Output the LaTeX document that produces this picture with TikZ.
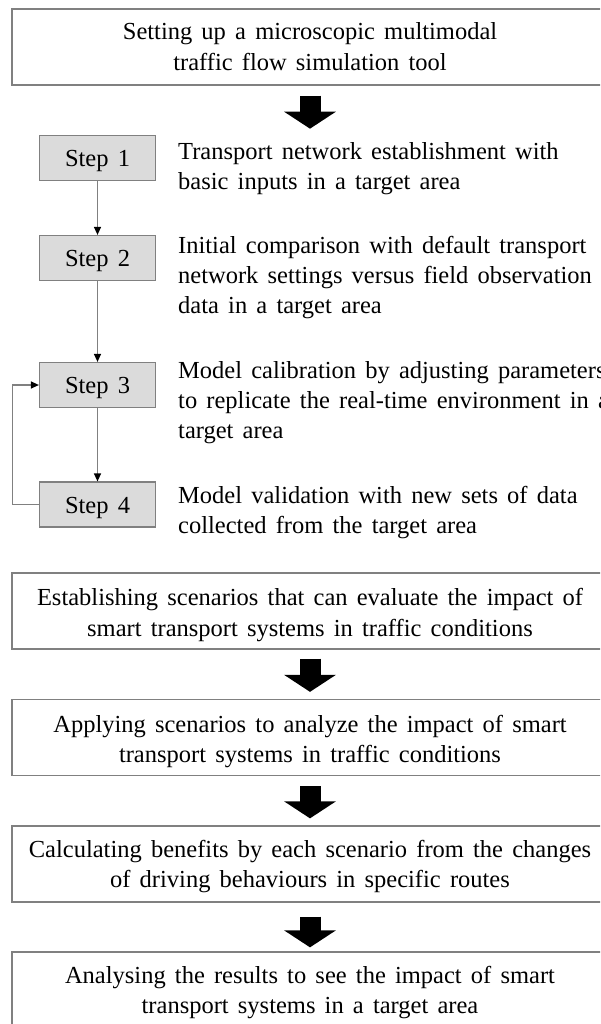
\documentclass[tikz,border=0pt]{standalone}
\usepackage{fontspec}
\setmainfont{Liberation Serif}[WordSpace=1.5]
\usetikzlibrary{arrows.meta,calc}
\definecolor{edge}{gray}{0.5}
\definecolor{stepfill}{gray}{0.86}
\begin{document}
\begin{tikzpicture}[x=1pt,y=-1pt,
  mainbox/.style={draw=edge, line width=1.3pt, minimum width=596pt, minimum height=76pt, inner sep=0pt},
  stepbox/.style={draw=edge, fill=stepfill, line width=1.2pt, minimum width=116pt, minimum height=45pt, inner sep=0pt, text height=17.4pt, text depth=0pt, font=\fontsize{24.5}{30}\selectfont},
  maintext/.style={align=center, anchor=base, inner sep=0pt, font=\fontsize{24.5}{30.5}\selectfont},
  sidetext/.style={align=left, anchor=base west, inner sep=0pt, font=\fontsize{24.5}{30}\selectfont},
  flowline/.style={draw=edge, line width=1.2pt, -{Triangle[length=8pt,width=7pt,color=black]}},
  bigarrow/.style={black, line width=21pt, -{Triangle[length=17pt,width=51pt]}}
]
\path[fill=white,use as bounding box] (0,0) rectangle (600,1024);
\clip (0,0) rectangle (600,1024);

% main boxes (text anchors are at the baseline of the last line)
\node[mainbox] (b0) at (310,47) {};
\node[maintext] (b0t) at (310,70.5) {Setting up a microscopic multimodal\\traffic flow simulation tool};

\node[mainbox] (b5) at (310,611) {};
\node[maintext] (b5t) at (310,636) {Establishing scenarios that can evaluate the impact of\\smart transport systems in traffic conditions};

\node[mainbox] (b6) at (310,737.5) {};
\node[maintext] (b6t) at (310,762.5) {Applying scenarios to analyze the impact of smart\\transport systems in traffic conditions};

\node[mainbox] (b7) at (310,864) {};
\node[maintext] (b7t) at (310,887.5) {Calculating benefits by each scenario from the changes\\of driving behaviours in specific routes};

\node[mainbox] (b8) at (310,990) {};
\node[maintext] (b8t) at (310,1013.5) {Analysing the results to see the impact of smart\\transport systems in a target area};

% step boxes
\node[stepbox] (s1) at (97.5,158.3) {Step 1};
\node[stepbox] (s2) at (97.5,258) {Step 2};
\node[stepbox] (s3) at (97.5,385) {Step 3};
\node[stepbox] (s4) at (97.5,504.5) {Step 4};

% side texts
\node[sidetext] (t1) at (178,190) {Transport network establishment with\\basic inputs in a target area};
\node[sidetext] (t2) at (178,313.5) {Initial comparison with default transport\\network settings versus field observation\\data in a target area};
\node[sidetext] (t3) at (178,438) {Model calibration by adjusting parameters\\to replicate the real-time environment in a\\target area};
\node[sidetext] (t4) at (178,533) {Model validation with new sets of data\\collected from the target area};

% step connectors
\draw[flowline] (s1.south) -- (s2.north);
\draw[flowline] (s2.south) -- (s3.north);
\draw[flowline] (s3.south) -- (s4.north);
\coordinate (fbx) at (12.7,0);
\draw[flowline] (s4.west) -- (s4.west -| fbx) |- (s3.west);

% block arrows
\draw[bigarrow] ($(b0.south)+(0,10)$) -- ($(b0.south |- s1.north)+(0,-6.5)$);
\draw[bigarrow] ($(b5.south)+(0,9)$) -- ($(b6.north)+(0,-7)$);
\draw[bigarrow] ($(b6.south)+(0,10)$) -- ($(b7.north)+(0,-7)$);
\draw[bigarrow] ($(b7.south)+(0,14)$) -- ($(b8.north)+(0,-4)$);
\end{tikzpicture}
\end{document}
